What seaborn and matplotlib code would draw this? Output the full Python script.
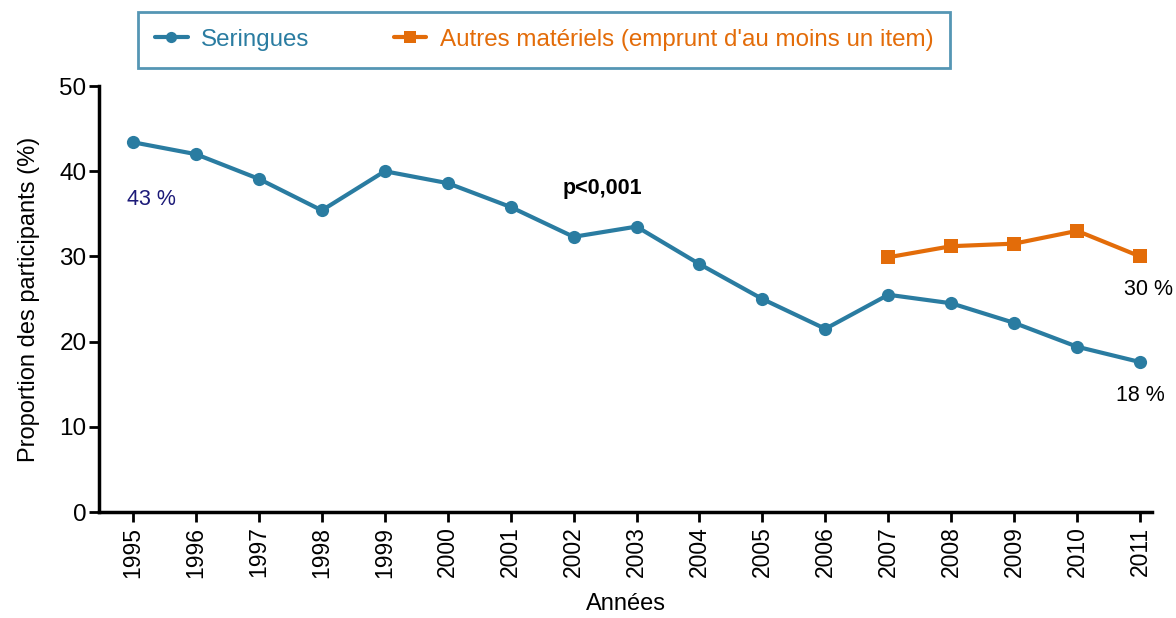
import pandas as pd
import numpy as np
import matplotlib
matplotlib.use("Agg")
import matplotlib.pyplot as plt
import seaborn as sns

# Data
annees = list(range(1995, 2012))
seringues = [43.4, 42.0, 39.1, 35.4, 40.0, 38.6, 35.8, 32.3, 33.5, 29.1,
             25.0, 21.5, 25.5, 24.5, 22.2, 19.4, 17.6]
annees_autres = [2007, 2008, 2009, 2010, 2011]
autres = [29.9, 31.2, 31.5, 33.0, 30.0]

lab_ser = "Seringues"
lab_aut = "Autres matériels (emprunt d'au moins un item)"
blue = "#2a7ca1"
orange = "#e36c09"

df = pd.concat([
    pd.DataFrame({"Année": annees, "Valeur": seringues, "Série": lab_ser}),
    pd.DataFrame({"Année": annees_autres, "Valeur": autres, "Série": lab_aut}),
])

sns.set_style("ticks")
plt.rcParams['font.family'] = ['Liberation Sans', 'DejaVu Sans']
plt.rcParams.update({"text.color": "black", "axes.labelcolor": "black",
                     "xtick.color": "black", "ytick.color": "black",
                     "axes.edgecolor": "black"})

fig = plt.figure(figsize=(11.76, 6.18), dpi=100)
ax = fig.add_axes([0.0842, 0.1715, 0.8954, 0.6893])

sns.lineplot(data=df, x="Année", y="Valeur", hue="Série", style="Série",
             palette={lab_ser: blue, lab_aut: orange},
             markers={lab_ser: "o", lab_aut: "s"}, dashes=False,
             markersize=9.5, linewidth=3, markeredgewidth=0, ax=ax)

ax.set_xlim(1994.46, 2011.19)
ax.set_ylim(0, 50)
ax.set_xticks(annees)
ax.set_xticklabels([str(a) for a in annees], rotation=90, fontsize=16.5)
ax.set_yticks([0, 10, 20, 30, 40, 50])
ax.tick_params(axis="y", labelsize=17.5, length=7, width=2, pad=2)
ax.tick_params(axis="x", length=7, width=2)
ax.set_xlabel("Années", fontsize=17, labelpad=11)
ax.set_ylabel("Proportion des participants (%)", fontsize=17, labelpad=14)
for s in ["top", "right"]:
    ax.spines[s].set_visible(False)
for s in ["left", "bottom"]:
    ax.spines[s].set_linewidth(2.5)

ax.text(1995.3, 36.7, "43 %", color="#1c1a78", fontsize=15.5, ha="center", va="center")
ax.text(2002.45, 38.0, "p<0,001", color="black", fontsize=15.5, fontweight="bold",
        ha="center", va="center")
ax.text(2011.13, 26.1, "30 %", color="black", fontsize=15.5, ha="center", va="center")
ax.text(2011, 13.7, "18 %", color="black", fontsize=15.5, ha="center", va="center")

leg = ax.legend(loc="upper left", bbox_to_anchor=(138 / 1176, 1 - 12 / 618),
                bbox_transform=fig.transFigure, ncol=2, frameon=True,
                fontsize=17.4, handlelength=1.35, handletextpad=0.55,
                columnspacing=3.5, borderaxespad=0, markerscale=0.85,
                fancybox=False, borderpad=0.7)
leg.get_frame().set_edgecolor(blue)
leg.get_frame().set_linewidth(2)
for t, c in zip(leg.get_texts(), [blue, orange]):
    t.set_color(c)

fig.savefig("out.png", dpi=100)
